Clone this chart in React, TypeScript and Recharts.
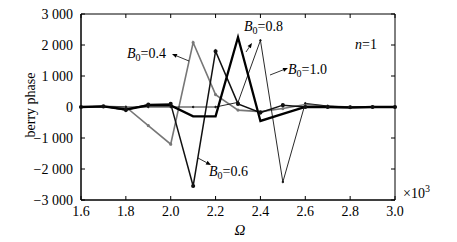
import React from 'react';
import { LineChart, Line, XAxis, YAxis, ReferenceArea } from 'recharts';

const OMEGA = [1.6, 1.7, 1.8, 1.9, 2.0, 2.1, 2.2, 2.3, 2.4, 2.5, 2.6, 2.7, 2.8, 2.9, 3.0];
const B04 = [0, 20, 0, -600, -1200, 2080, 400, -100, -150, -50, 80, 30, 0, 0, 0];
const B06 = [0, 20, -100, 80, 100, -2550, 1800, 100, -180, 60, 0, 0, -10, 0, 0];
const B08 = [0, 20, -80, 50, 50, -300, -300, 2250, -450, -220, 0, 0, -20, 0, 0];
const B10 = [0, 10, 0, 0, 0, 0, 0, 150, 2150, -2420, 120, 30, 0, 0, 0];
const X_TICKS = [1.6, 1.8, 2.0, 2.2, 2.4, 2.6, 2.8, 3.0];
const Y_TICKS = [-3000, -2000, -1000, 0, 1000, 2000, 3000];

const data = OMEGA.map((x, i) => ({ x, b04: B04[i], b06: B06[i], b08: B08[i], b10: B10[i] }));

const W = 457;
const H = 242;
const LEFT = 81;
const RIGHT = 395;
const TOP = 14;
const BOTTOM = 200;
const FONT = 'Liberation Serif, Times New Roman, DejaVu Serif, serif';
const TXT: React.CSSProperties = { fontFamily: FONT };

const fmtY = (v: number) => {
  const a = Math.abs(v);
  const s = a >= 1000 ? `${Math.floor(a / 1000)} ${String(a % 1000).padStart(3, '0')}` : String(a);
  return v < 0 ? '\u2212' + s : s;
};

const XTick = (props: any) => {
  const { x, y, payload } = props;
  return (
    <g>
      <line x1={x} x2={x} y1={BOTTOM} y2={BOTTOM - 4} stroke="#000" strokeWidth={1} />
      <line x1={x} x2={x} y1={TOP} y2={TOP + 4} stroke="#000" strokeWidth={1} />
      <text x={x} y={y} dy="0.72em" textAnchor="middle" style={TXT} fontSize={14} fill="#000">
        {Number(payload.value).toFixed(1)}
      </text>
    </g>
  );
};

const YTick = (props: any) => {
  const { x, y, payload } = props;
  return (
    <g>
      <line x1={LEFT} x2={LEFT + 4} y1={y} y2={y} stroke="#000" strokeWidth={1} />
      <line x1={RIGHT} x2={RIGHT - 4} y1={y} y2={y} stroke="#000" strokeWidth={1} />
      <text x={x} y={y} dy="0.35em" textAnchor="end" style={TXT} fontSize={14} fill="#000">
        {fmtY(payload.value)}
      </text>
    </g>
  );
};

const BLabel = ({ x, y, v }: { x: number; y: number; v: string }) => (
  <text x={x} y={y} style={TXT} fontSize={14} fill="#000">
    <tspan fontStyle="italic">B</tspan>
    <tspan fontSize={10} dy={3}>0</tspan>
    <tspan dy={-3}>={v}</tspan>
  </text>
);

const Arrow = ({ x1, y1, x2, y2 }: { x1: number; y1: number; x2: number; y2: number }) => {
  const ang = Math.atan2(y2 - y1, x2 - x1);
  const L = 5;
  const w = 2;
  const bx = x2 - L * Math.cos(ang);
  const by = y2 - L * Math.sin(ang);
  const px = -Math.sin(ang) * w;
  const py = Math.cos(ang) * w;
  return (
    <g>
      <line x1={x1} y1={y1} x2={bx} y2={by} stroke="#000" strokeWidth={0.8} />
      <polygon points={`${x2},${y2} ${bx + px},${by + py} ${bx - px},${by - py}`} fill="#000" />
    </g>
  );
};

export default function App() {
  return (
    <div style={{ position: 'absolute', left: 0, top: 0, width: W, height: H, background: '#fff' }}>
      <LineChart width={W} height={H} data={data} margin={{ top: TOP, right: W - RIGHT, left: 0, bottom: 0 }}>
        <XAxis
          dataKey="x"
          type="number"
          domain={[1.6, 3.0]}
          ticks={X_TICKS}
          interval={0}
          height={H - BOTTOM}
          tickSize={4}
          tickMargin={2}
          tickLine={false}
          axisLine={{ stroke: '#000', strokeWidth: 1 }}
          tick={<XTick />}
        />
        <YAxis
          type="number"
          domain={[-3000, 3000]}
          ticks={Y_TICKS}
          interval={0}
          width={LEFT}
          tickSize={5}
          tickMargin={3}
          tickLine={false}
          axisLine={{ stroke: '#000', strokeWidth: 1 }}
          tick={<YTick />}
        />
        <ReferenceArea x1={1.6} x2={3.0} y1={-3000} y2={3000} fill="none" stroke="#000" strokeWidth={1} />
        <Line type="linear" dataKey="b04" stroke="#777" strokeWidth={1.6} dot={{ r: 0.8, fill: '#777', stroke: '#777' }} isAnimationActive={false} />
        <Line type="linear" dataKey="b10" stroke="#111" strokeWidth={0.9} dot={{ r: 0.8, fill: '#111', stroke: '#111' }} isAnimationActive={false} />
        <Line type="linear" dataKey="b06" stroke="#111" strokeWidth={1.5} dot={{ r: 1.3, fill: '#111', stroke: '#111' }} isAnimationActive={false} />
        <Line type="linear" dataKey="b08" stroke="#000" strokeWidth={2.3} dot={false} isAnimationActive={false} />
      </LineChart>
      <svg width={W} height={H} style={{ position: 'absolute', left: 0, top: 0, pointerEvents: 'none' }}>
        <text x={30} y={105} transform="rotate(-90 30 105)" textAnchor="middle" dy="0.35em" style={TXT} fontSize={14} fill="#000">
          berry phase
        </text>
        <text x={240} y={235} textAnchor="middle" style={TXT} fontSize={15} fontStyle="italic" fill="#000">
          Ω
        </text>
        <text x={403} y={198} style={TXT} fontSize={14} fill="#000">
          ×10<tspan fontSize={10} dy={-6}>3</tspan>
        </text>
        <text x={355} y={49} style={TXT} fontSize={14} fill="#000">
          <tspan fontStyle="italic">n</tspan>=1
        </text>
        <BLabel x={127} y={58} v="0.4" />
        <Arrow x1={189} y1={61} x2={172} y2={54} />
        <BLabel x={209} y={176} v="0.6" />
        <Arrow x1={198} y1={158} x2={211} y2={165} />
        <BLabel x={244} y={31} v="0.8" />
        <Arrow x1={246} y1={52} x2={252} y2={43} />
        <BLabel x={288} y={74} v="1.0" />
        <Arrow x1={270} y1={75} x2={288} y2={68} />
      </svg>
    </div>
  );
}
